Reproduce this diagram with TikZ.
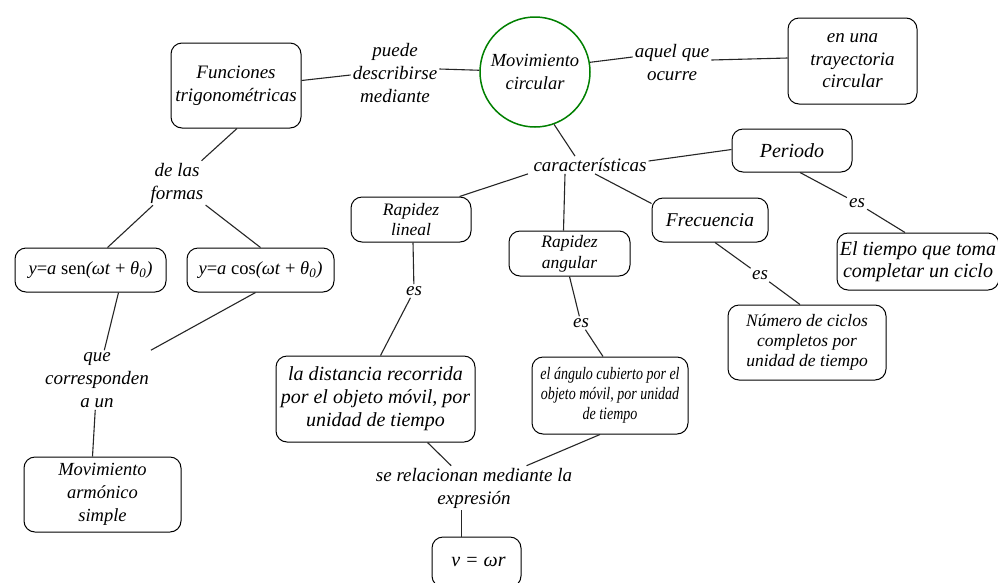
\documentclass[tikz,border=0pt]{standalone}
\usepackage{fontspec}
\setmainfont{Liberation Serif}
\newfontfamily\condfont[FakeStretch=0.8]{Liberation Serif}
\begin{document}
\begin{tikzpicture}[x=1pt,y=-1pt,
  box/.style={draw, line width=1pt, rounded corners=11pt, align=center, inner sep=2pt, font=\fontsize{19}{22.5}\selectfont\itshape},
  lbl/.style={align=center, inner sep=2pt, font=\fontsize{19}{23}\selectfont\itshape},
  con/.style={line width=1.1pt, draw=black!85}]
\clip (0,0) rectangle (998,582);
\fill[white] (0,0) rectangle (998,582);

% main nodes
\node[circle, draw=green!50!black, line width=1.5pt, minimum size=110pt, inner sep=0pt, align=center, font=\fontsize{18.5}{23}\selectfont\itshape] (circ) at (535,72) {Movimiento\\circular};
\node[box, minimum width=130pt, minimum height=85pt] (func) at (236,85.5) {Funciones\\trigonométricas};
\node[box, minimum width=129pt, minimum height=86pt] (tray) at (852.5,61) {en una\\trayectoria\\circular};
\node[box, minimum width=120pt, minimum height=43pt, font=\fontsize{20}{22}\selectfont\itshape] (peri) at (792,150.5) {Periodo};
\node[box, minimum width=162pt, minimum height=57pt, font=\fontsize{20}{22.5}\selectfont\itshape] (tiempo) at (918,261.5) {El tiempo que toma\\completar un ciclo};
\node[box, minimum width=116pt, minimum height=44pt, font=\fontsize{19.5}{22}\selectfont\itshape] (frec) at (710,220) {Frecuencia};
\node[box, minimum width=158pt, minimum height=75pt, font=\fontsize{17.5}{20}\selectfont\itshape] (numero) at (807,342.5) {Número de ciclos\\completos por\\unidad de tiempo};
\node[box, minimum width=120pt, minimum height=45pt, font=\fontsize{17.5}{20.5}\selectfont\itshape] (rlin) at (411,219.5) {Rapidez\\lineal};
\node[box, minimum width=121pt, minimum height=45pt, font=\fontsize{17.5}{21}\selectfont\itshape] (rang) at (569.5,253.5) {Rapidez\\angular};
\node[box, minimum width=199pt, minimum height=86pt, font=\fontsize{20}{23}\selectfont\itshape] (dist) at (375.5,399) {la distancia recorrida\\por el objeto móvil, por\\unidad de tiempo};
\node[box, minimum width=156pt, minimum height=77pt, font=\fontsize{17.5}{20}\condfont\itshape] (ang) at (610,395.5) {el ángulo cubierto por el\\objeto móvil, por unidad\\de tiempo};
\node[box, minimum width=89pt, minimum height=50pt, font=\fontsize{20}{22}\selectfont\itshape] (vwr) at (476.5,562) {\hspace{4pt}v = ωr};
\node[box, minimum width=151pt, minimum height=44pt, font=\fontsize{18.5}{22}\selectfont] (sen) at (90.5,270) {\textit{y}=\textit{a} sen\textit{(ωt} + \textit{θ\textsubscript{0})}};
\node[box, minimum width=147pt, minimum height=44pt, font=\fontsize{18.5}{22}\selectfont] (cos) at (260.5,270) {\textit{y}=\textit{a} cos\textit{(ωt} + \textit{θ\textsubscript{0})}};
\node[box, minimum width=157pt, minimum height=75pt, font=\fontsize{18.5}{23}\selectfont\itshape] (mas) at (102.5,494.5) {Movimiento\\armónico\\simple};

% label nodes
\node[lbl] (puede) at (395,73) {puede\\describirse\\mediante};
\node[lbl] (aquel) at (672,63) {aquel que\\ocurre};
\node[lbl] (caract) at (590,165) {características};
\node[lbl] (es1) at (857,203) {es};
\node[lbl] (es2) at (760,275) {es};
\node[lbl] (es3) at (414,291) {es};
\node[lbl] (es4) at (581,323) {es};
\node[lbl] (serel) at (474,488) {se relacionan mediante la\\expresión};
\node[lbl] (delas) at (177,183) {de las\\formas};
\node[lbl] (que) at (97,380) {que\\corresponden\\a un};

% connectors
\draw[con] ([yshift=5pt]func.east) -- ([yshift=-2pt]puede.west);
\draw[con] ([yshift=4pt]puede.east) -- (circ);
\draw[con] (circ.10) -- ([yshift=6pt]aquel.west);
\draw[con] ([yshift=3pt]aquel.east) -- ([yshift=3pt]tray.west);
\draw[con] (circ.-70) -- ([xshift=-15pt]caract.north);
\draw[con] ([yshift=4pt]caract.east) -- ([yshift=1pt]peri.west);
\draw[con] ([xshift=-62pt]caract.south) -- ([xshift=-12pt]rlin.north east);
\draw[con] ([xshift=-25pt]caract.south) -- ([xshift=-6pt]rang.north);
\draw[con] ([xshift=5pt]caract.south) -- ([yshift=-6pt]frec.north west);
\draw[con] ([xshift=8pt]peri.south) -- (es1);
\draw[con] (es1) -- ([xshift=-13pt]tiempo.north);
\draw[con] ([xshift=5pt]frec.south) -- (es2);
\draw[con] (es2) -- ([xshift=-7pt]numero.north);
\draw[con] ([xshift=2pt]rlin.south) -- (es3);
\draw[con] (es3) -- ([xshift=5pt]dist.north);
\draw[con] (rang.south) -- (es4);
\draw[con] (es4) -- ([xshift=-7pt]ang.north);
\draw[con] ([xshift=52pt]dist.south) -- (serel);
\draw[con] ([xshift=-10pt]ang.south) -- (serel);
\draw[con] ([xshift=-12.3pt]serel.south) -- ([xshift=-14.8pt]vwr.north);
\draw[con] ([xshift=1pt]func.south) -- (delas);
\draw[con] (delas) -- ([xshift=17pt]sen.north);
\draw[con] (delas) -- (cos.north);
\draw[con] ([xshift=28pt]sen.south) -- (que);
\draw[con] ([xshift=-5pt]cos.south) -- (que);
\draw[con] (que) -- ([xshift=-10pt]mas.north);
\end{tikzpicture}
\end{document}
